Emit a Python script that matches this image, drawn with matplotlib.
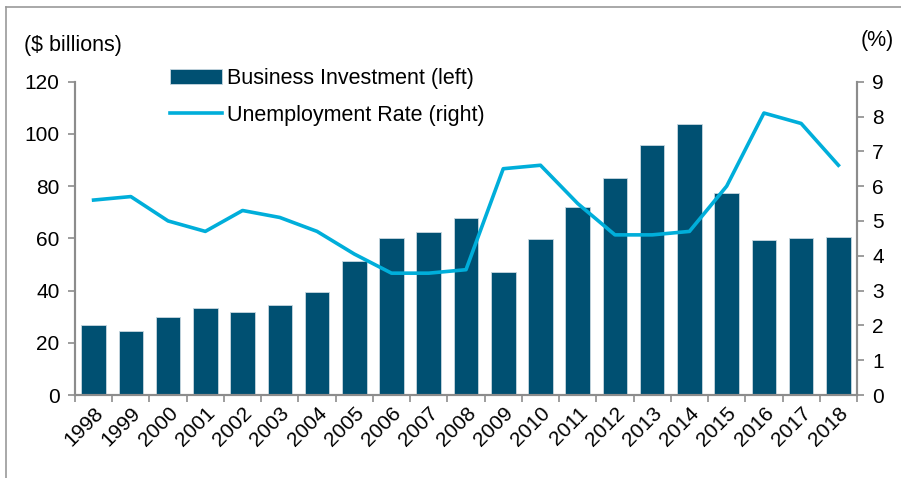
import numpy as np
import matplotlib
matplotlib.use("Agg")
import matplotlib.pyplot as plt
from matplotlib.lines import Line2D

plt.rcParams['font.family'] = ['Liberation Sans', 'DejaVu Sans']

years = [str(y) for y in range(1998, 2019)]
investment = [26.8, 24.7, 30.0, 33.5, 31.7, 34.4, 39.5, 51.2, 60.0, 62.6, 67.7,
              47.0, 59.9, 71.9, 83.0, 95.7, 103.9, 77.5, 59.5, 60.0, 60.5]
unemployment = [5.6, 5.7, 5.0, 4.7, 5.3, 5.1, 4.7, 4.05, 3.5, 3.5, 3.6,
                6.5, 6.6, 5.5, 4.6, 4.6, 4.7, 6.0, 8.1, 7.8, 6.6]

bar_color = '#005072'
line_color = '#00AEDA'
spine_color = '#8c8c8c'
fs = 15

fig = plt.figure(figsize=(9.01, 4.78), dpi=100)
ax = fig.add_axes([0.0832, 0.1736, 0.8680, 0.6555])
ax2 = ax.twinx()

x = np.arange(len(years))
bars = ax.bar(x, investment, width=0.66, color=bar_color, edgecolor='#c8d8e0',
              linewidth=0.6, label='Business Investment (left)', zorder=2)
line, = ax2.plot(x, unemployment, color=line_color, lw=2.6,
                 label='Unemployment Rate (right)', zorder=3)

ax.set_xlim(-0.5, len(years) - 0.5)
ax.set_ylim(0, 120)
ax.set_yticks(range(0, 121, 20))
ax2.set_ylim(0, 9)
ax2.set_yticks(range(0, 10))

# ticks sit on the category boundaries, labels under the bars
ax.set_xticks(np.arange(-0.5, len(years), 1.0))
ax.set_xticklabels([])
ax.set_xticks(x, minor=True)
ax.set_xticklabels(years, minor=True, rotation=45, ha='right',
                   rotation_mode='anchor', fontsize=fs)
ax.tick_params(axis='x', which='minor', length=0, pad=6)
ax.tick_params(axis='x', which='major', length=5, width=1.2, color=spine_color)
ax.tick_params(axis='y', length=5, width=1.2, color=spine_color, labelsize=fs, pad=6)
ax2.tick_params(axis='y', length=5, width=1.2, color=spine_color, labelsize=fs, pad=6)

for a in (ax, ax2):
    a.spines['top'].set_visible(False)
    for s in ('left', 'right', 'bottom'):
        a.spines[s].set_color(spine_color)
        a.spines[s].set_linewidth(1.5)
ax2.patch.set_visible(False)

fig.text(0.027, 0.905, '($ billions)', fontsize=15.5, va='center', ha='left')
fig.text(0.955, 0.915, '(%)', fontsize=15.5, va='center', ha='left')

ax2.legend([bars, line], [bars.get_label(), line.get_label()],
           loc='upper left', bbox_to_anchor=(0.122, 1.045), frameon=False,
           fontsize=15.5, handlelength=2.4, handletextpad=0.23,
           labelspacing=0.75, borderaxespad=0, borderpad=0)

# thin frame along the top and left edge
fig.add_artist(Line2D([0.0067, 0.0067], [0.0, 0.985], color='#999999', lw=1.2,
                      transform=fig.transFigure))
fig.add_artist(Line2D([0.0067, 1.0], [0.985, 0.985], color='#999999', lw=1.2,
                      transform=fig.transFigure))

fig.savefig('out.png', dpi=100)
